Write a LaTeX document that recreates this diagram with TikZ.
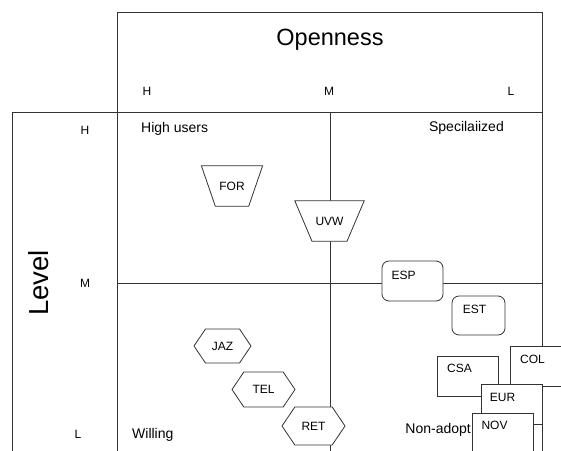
\documentclass[tikz,border=0pt]{standalone}
\usepackage{fontspec}
\setmainfont{Liberation Sans}
\usepackage{tikz}
\usetikzlibrary{shapes.geometric, shapes.symbols}
\tikzstyle{grid} = [
    line width=0.8pt,
    black!80
]
\tikzstyle{axis} = [font=\fontsize{23.5}{28}\selectfont, inner sep=0]
\tikzstyle{quad} = [font=\fontsize{14}{16}\selectfont, inner sep=0]
\tikzstyle{tag} = [font=\fontsize{12}{14}\selectfont, inner sep=0]
\tikzstyle{card} = [
    draw, line width=0.8pt, black!80, fill=white, text=black,
    minimum width=61pt, minimum height=40pt, inner sep=0
]
\tikzstyle{rcard} = [card, rounded corners=7pt]
\tikzstyle{funnel} = [
    trapezium, shape border rotate=180,
    draw, line width=0.8pt, black!80, fill=white, text=black,
    text height=8.6pt, text depth=0pt, inner ysep=16pt,
    font=\fontsize{12}{14}\selectfont
]
\tikzstyle{hexa} = [
    signal, signal to=east and west, signal pointer angle=112,
    draw, line width=0.8pt, black!80, fill=white, text=black,
    inner sep=0, font=\fontsize{12}{14}\selectfont
]

\begin{document}
\begin{tikzpicture}[x=1pt, y=-1pt]
    \useasboundingbox (0,0) rectangle (561,450);
    \clip (0,0) rectangle (561,450);
    % Frame
    \draw[grid] (117,460) -- (117,12) -- (542,12) -- (542,460);
    \draw[grid] (12,460) -- (12,112) -- (542,112);
    \draw[grid] (330,112) -- (330,460);
    \draw[grid] (117,283) -- (542,283);
    % Axes
    \node[axis] (open) at (330,40) {Openness};
    \node[axis, font=\fontsize{27.5}{32}\selectfont, rotate=90] (level) at (39,283) {Level};
    \node[tag] (oH) at (147,91) {H};
    \node[tag] (oM) at (329,91) {M};
    \node[tag] (oL) at (511,91) {L};
    \node[tag] (lH) at (85,130) {H};
    \node[tag] (lM) at (85,283) {M};
    \node[tag] (lL) at (78,434) {L};
    % Quadrants
    \node[quad, anchor=west] (high) at (141,129) {High users};
    \node[quad, anchor=east] (spec) at (504,128) {Specilaiized};
    \node[quad, anchor=west] (will) at (132,435) {Willing};
    \node[quad, anchor=east] (nona) at (471,430) {Non-adopt};
    % Funnels
    \node[funnel, trapezium angle=71, inner xsep=4pt] (FOR) at (232,186) {FOR};
    \node[funnel, trapezium angle=67, inner xsep=3.5pt] (UVW) at (329.5,221) {UVW};
    % Hexagons
    \node[hexa, minimum width=57pt, minimum height=34pt] (JAZ) at (222.5,346) {JAZ};
    \node[hexa, minimum width=63pt, minimum height=35pt] (TEL) at (263.5,389.5) {TEL};
    \node[hexa, minimum width=63pt, minimum height=38pt] (RET) at (313.5,426) {RET};
    % Boxes
    \node[rcard, label={[tag, xshift=-9pt, yshift=6pt]center:ESP}] (ESP) at (412.5,281) {};
    \node[rcard, minimum width=53pt, minimum height=39pt,
          label={[tag, xshift=-4pt, yshift=6pt]center:EST}] (EST) at (478.5,315.5) {};
    \node[card, label={[tag, xshift=-8pt, yshift=8pt]center:CSA}] (CSA) at (467.5,376) {};
    \node[card, label={[tag, xshift=-8pt, yshift=7pt]center:COL}] (COL) at (540.5,366) {};
    \node[card, label={[tag, xshift=-9pt, yshift=7pt]center:EUR}] (EUR) at (511.5,404.5) {};
    \node[card, label={[tag, xshift=-8pt, yshift=8pt]center:NOV}] (NOV) at (502.5,433) {};
\end{tikzpicture}
\end{document}
